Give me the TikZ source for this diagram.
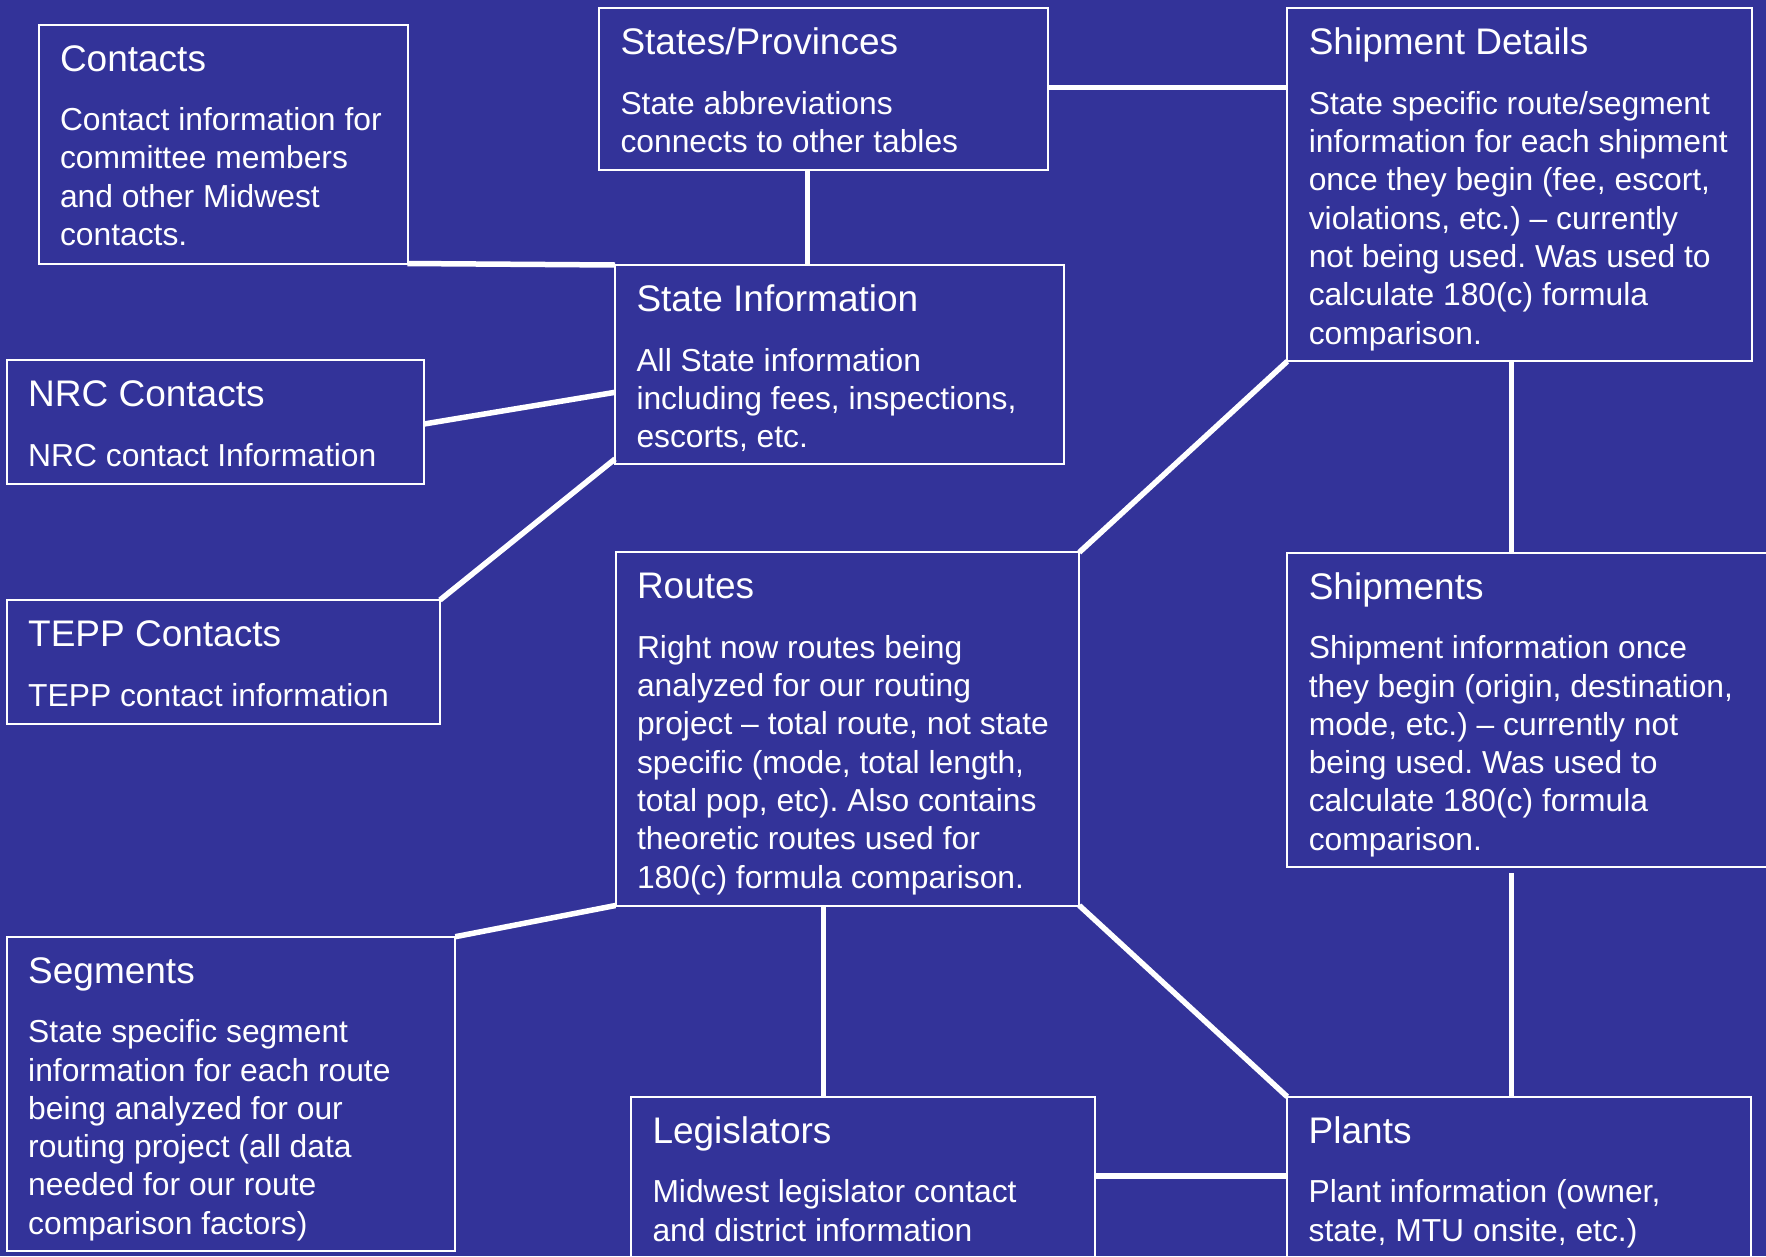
\documentclass[tikz,border=0pt]{standalone}
\usepackage{fontspec}
\setmainfont{Liberation Sans}
\frenchspacing
\definecolor{bgblue}{RGB}{51,51,153}
\tikzset{
  tblbox/.style={draw=white, line width=2pt, rectangle, inner sep=0pt, outer sep=0pt, anchor=north west},
  titletext/.style={text=white, inner sep=0pt, outer sep=0pt, anchor=base west, font=\fontsize{37}{44}\selectfont},
  bodytext/.style={text=white, inner sep=0pt, outer sep=0pt, anchor=base west, font=\fontsize{31.8}{38.3}\selectfont},
  conn/.style={draw=white, line width=5.5pt}
}
\newcommand\tbl[7]{%
  \node[tblbox, minimum width=#4pt-#2pt, minimum height=#5pt-#3pt] (#1) at (#2pt,-#3pt) {};
  \node[titletext] (#1-t) at ([xshift=21.5pt,yshift=-46.5pt]#1.north west) {\frenchspacing #6};
  \node[bodytext] (#1-b) at ([xshift=21.5pt,yshift=-106pt]#1.north west)
    {\frenchspacing\begin{tabular}[t]{@{}l@{}}#7\end{tabular}};
}
\begin{document}
\begin{tikzpicture}
\useasboundingbox (0,0) rectangle (1766pt,-1256pt);
\fill[bgblue] (0,0) rectangle (1766pt,-1256pt);
\clip (0,0) rectangle (1766pt,-1256pt);

\tbl{ct}{38.5}{24.5}{407.5}{263.5}{Contacts}{Contact information for\\committee members\\and other Midwest\\contacts.}
\tbl{sp}{599}{8.3}{1047.7}{170}{States/Provinces}{State abbreviations\\connects to other tables}
\tbl{sd}{1287.3}{8.3}{1752}{361.3}{Shipment Details}{State specific route/segment\\information for each shipment\\once they begin (fee, escort,\\violations, etc.) – currently\\not being used. Was used to\\calculate 180(c) formula\\comparison.}
\tbl{si}{615}{265}{1063.7}{464.3}{State Information}{All State information\\including fees, inspections,\\escorts, etc.}
\tbl{nrc}{6.7}{360}{424}{484}{NRC Contacts}{NRC contact Information}
\tbl{tepp}{6.7}{600}{440}{724.3}{TEPP Contacts}{TEPP contact information}
\tbl{rt}{615.5}{552.3}{1079.3}{905.5}{Routes}{Right now routes being\\analyzed for our routing\\project – total route, not state\\specific (mode, total length,\\total pop, etc). Also contains\\theoretic routes used for\\180(c) formula comparison.}
\tbl{sh}{1287.3}{552.7}{1780}{867}{Shipments}{Shipment information once\\they begin (origin, destination,\\mode, etc.) – currently not\\being used. Was used to\\calculate 180(c) formula\\comparison.}
\tbl{seg}{6.7}{936.7}{455.3}{1251}{Segments}{State specific segment\\information for each route\\being analyzed for our\\routing project (all data\\needed for our route\\comparison factors)}
\tbl{leg}{631}{1096.7}{1095.3}{1270}{Legislators}{Midwest legislator contact\\and district information}
\tbl{pl}{1287.2}{1096.7}{1751.3}{1270}{Plants}{Plant information (owner,\\state, MTU onsite, etc.)}

\coordinate (xSP) at (807.3pt,0);
\coordinate (ySP) at (0,-87.7pt);
\coordinate (yNRC) at (0,-424pt);
\coordinate (ySInrc) at (0,-392.3pt);
\coordinate (yTe) at (0,-459pt);
\coordinate (xSH) at (1511.3pt,0);
\coordinate (xRL) at (823.3pt,0);
\coordinate (yLP) at (0,-1176pt);

\draw[conn] (ct.south east) -- (si.north west);
\draw[conn] (sp.south -| xSP) -- (si.north -| xSP);
\draw[conn] (sp.east |- ySP) -- (sd.west |- ySP);
\draw[conn] (nrc.east |- yNRC) -- (si.west |- ySInrc);
\draw[conn] (tepp.north east) -- (si.west |- yTe);
\draw[conn] (sd.south west) -- (rt.north east);
\draw[conn] (sd.south -| xSH) -- (sh.north -| xSH);
\draw[conn] (seg.north east) -- (rt.south west);
\draw[conn] (rt.south -| xRL) -- (leg.north -| xRL);
\draw[conn] (rt.south east) -- (pl.north west);
\draw[conn, shorten <=6pt] (sh.south -| xSH) -- (pl.north -| xSH);
\draw[conn] (leg.east |- yLP) -- (pl.west |- yLP);
\end{tikzpicture}
\end{document}
